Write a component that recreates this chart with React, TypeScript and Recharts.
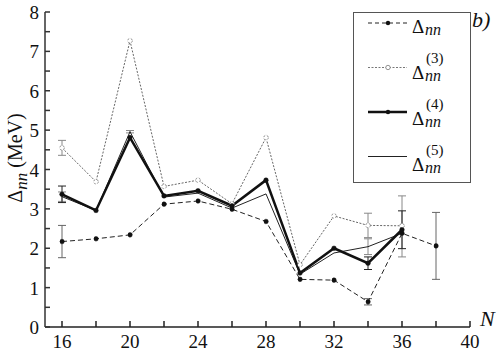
import React from 'react';
import { LineChart, Line, XAxis, YAxis, ErrorBar, Legend } from 'recharts';

// neutron number N
const nValues = [16, 18, 20, 22, 24, 26, 28, 30, 32, 34, 36, 38];

// pairing gaps (MeV)
const deltaNN = [2.17, 2.24, 2.34, 3.12, 3.2, 2.99, 2.68, 1.21, 1.19, 0.64, 2.38, 2.06];
const delta3 = [4.55, 3.69, 7.27, 3.57, 3.73, 3.13, 4.81, 1.58, 2.82, 2.58, 2.57, null];
const delta4 = [3.37, 2.96, 4.81, 3.33, 3.46, 3.08, 3.73, 1.37, 2.0, 1.62, 2.47, null];
const delta5 = [3.31, 2.96, 4.96, 3.3, 3.4, 3.02, 3.38, 1.34, 1.88, 2.04, 2.38, null];

// error bars
const errNN = [0.41, null, null, null, null, null, null, null, null, 0.08, null, 0.85];
const err3 = [0.19, null, null, null, null, null, null, null, null, 0.31, null, null];
const err4 = [0.21, null, null, null, null, null, null, null, null, 0.16, 0.48, null];
const err5 = [0.12, null, 0.03, null, null, null, null, null, null, 0.2, [0.6, 0.95], null];

const xTicks = [16, 18, 20, 22, 24, 26, 28, 30, 32, 34, 36, 38, 40];
const xLabels = [16, 20, 24, 28, 32, 36, 40];
const yTicks = [0, 0.5, 1, 1.5, 2, 2.5, 3, 3.5, 4, 4.5, 5, 5.5, 6, 6.5, 7, 7.5, 8];
const yLabels = [0, 1, 2, 3, 4, 5, 6, 7, 8];

const legendItems = [
  { sup: '', dash: '4 3', color: '#222', width: 1, dot: 'filled' },
  { sup: '(3)', dash: '2 1.5', color: '#777', width: 1, dot: 'open' },
  { sup: '(4)', dash: undefined, color: '#111', width: 2.5, dot: 'filled' },
  { sup: '(5)', dash: undefined, color: '#222', width: 1, dot: 'none' },
];

const data = nValues.map((n, i) => ({
  N: n,
  d1: deltaNN[i],
  d3: delta3[i],
  d4: delta4[i],
  d5: delta5[i],
  e1: errNN[i],
  e3: err3[i],
  e4: err4[i],
  e5: err5[i],
}));

const FONT = 'Liberation Serif';
const serif = { fontFamily: FONT };

const XTick = (props: any) => {
  const v = props.payload.value;
  if (!xLabels.includes(v)) return null;
  return (
    <text x={props.x} y={props.y + 15} textAnchor="middle" fontFamily={FONT} style={{ ...serif, fontSize: 19 }} fill="#111">
      {v}
    </text>
  );
};

const YTick = (props: any) => {
  const v = props.payload.value;
  if (!yLabels.includes(v)) return null;
  return (
    <text x={props.x} y={props.y + 7} textAnchor="end" fontFamily={FONT} style={{ ...serif, fontSize: 19 }} fill="#111">
      {v}
    </text>
  );
};

const LegendBox = () => (
  <svg width={118} height={171} style={{ display: 'block', ...serif }}>
    <rect x={0.5} y={0.5} width={117} height={170} fill="#fff" stroke="#555" strokeWidth={1} />
    {legendItems.map((it, i) => {
      const ly = 11 + i * 44.5;
      const by = ly + 10 + i * 1.5;
      return (
        <g key={i}>
          <line x1={15} x2={54} y1={ly} y2={ly} stroke={it.color} strokeWidth={it.width} strokeDasharray={it.dash} />
          {it.dot === 'filled' && <circle cx={35} cy={ly} r={2.2} fill="#111" />}
          {it.dot === 'open' && <circle cx={35} cy={ly} r={2.2} fill="#fff" stroke="#777" strokeWidth={0.8} />}
          <text x={59} y={by} fontFamily={FONT} style={{ ...serif, fontSize: 19 }} fill="#111">Δ</text>
          <text x={72} y={by + 2} fontFamily={FONT} style={{ ...serif, fontSize: 16, fontStyle: 'italic' }} fill="#111">nn</text>
          {it.sup && (
            <text x={73} y={by - 16} fontFamily={FONT} style={{ ...serif, fontSize: 15 }} fill="#111">{it.sup}</text>
          )}
        </g>
      );
    })}
  </svg>
);

const YTitle = () => (
  <text transform="translate(22,158) rotate(-90)" textAnchor="middle" fontFamily={FONT} style={{ ...serif, fontSize: 20 }} fill="#111">
    <tspan>Δ</tspan>
    <tspan style={{ fontStyle: 'italic', fontSize: 17 }} dy={5}>nn</tspan>
    <tspan dy={-5}> (MeV)</tspan>
  </text>
);

export default function App() {
  return (
    <div style={{ position: 'absolute', left: 0, top: 0, width: 503, height: 353, background: '#fff', ...serif }}>
      <LineChart width={503} height={353} data={data} margin={{ top: 12, right: 33, left: 0, bottom: 0 }}>
        <XAxis
          dataKey="N"
          type="number"
          domain={[15, 40]}
          ticks={xTicks}
          interval={0}
          tickSize={-6}
          tickMargin={12}
          height={26}
          stroke="#222"
          strokeWidth={1.5}
          tick={<XTick />}
        />
        <YAxis
          type="number"
          domain={[0, 8]}
          ticks={yTicks}
          interval={0}
          tickSize={-5}
          tickMargin={11}
          width={45}
          stroke="#333"
          strokeWidth={1.5}
          tick={<YTick />}
          label={<YTitle />}
        />
        <Legend
          layout="vertical"
          align="center"
          verticalAlign="middle"
          wrapperStyle={{ left: 353, top: 12, width: 118, height: 171 }}
          content={() => <LegendBox />}
        />
        <Line
          dataKey="d3"
          stroke="#666"
          strokeWidth={1}
          strokeDasharray="2 1.5"
          dot={{ r: 2.3, fill: '#fff', stroke: '#777', strokeWidth: 0.8 }}
          isAnimationActive={false}
        >
          <ErrorBar dataKey="e3" width={4} stroke="#888" strokeWidth={1} direction="y" />
        </Line>
        <Line
          dataKey="d1"
          stroke="#222"
          strokeWidth={1}
          strokeDasharray="5 3"
          dot={{ r: 2.3, fill: '#111', stroke: '#111', strokeWidth: 0.5 }}
          isAnimationActive={false}
        >
          <ErrorBar dataKey="e1" width={4} stroke="#666" strokeWidth={1} direction="y" />
        </Line>
        <Line dataKey="d5" stroke="#222" strokeWidth={1} dot={false} isAnimationActive={false}>
          <ErrorBar dataKey="e5" width={4} stroke="#888" strokeWidth={1} direction="y" />
        </Line>
        <Line
          dataKey="d4"
          stroke="#111"
          strokeWidth={2.5}
          dot={{ r: 2.3, fill: '#111', stroke: '#111', strokeWidth: 0.5 }}
          isAnimationActive={false}
        >
          <ErrorBar dataKey="e4" width={4} stroke="#222" strokeWidth={1} direction="y" />
        </Line>
      </LineChart>
      <div style={{ position: 'absolute', left: 472, top: 7, ...serif, fontStyle: 'italic', fontSize: 22, color: '#111' }}>
        b)
      </div>
      <div style={{ position: 'absolute', left: 480, top: 306, ...serif, fontStyle: 'italic', fontSize: 22, color: '#111' }}>
        N
      </div>
    </div>
  );
}
